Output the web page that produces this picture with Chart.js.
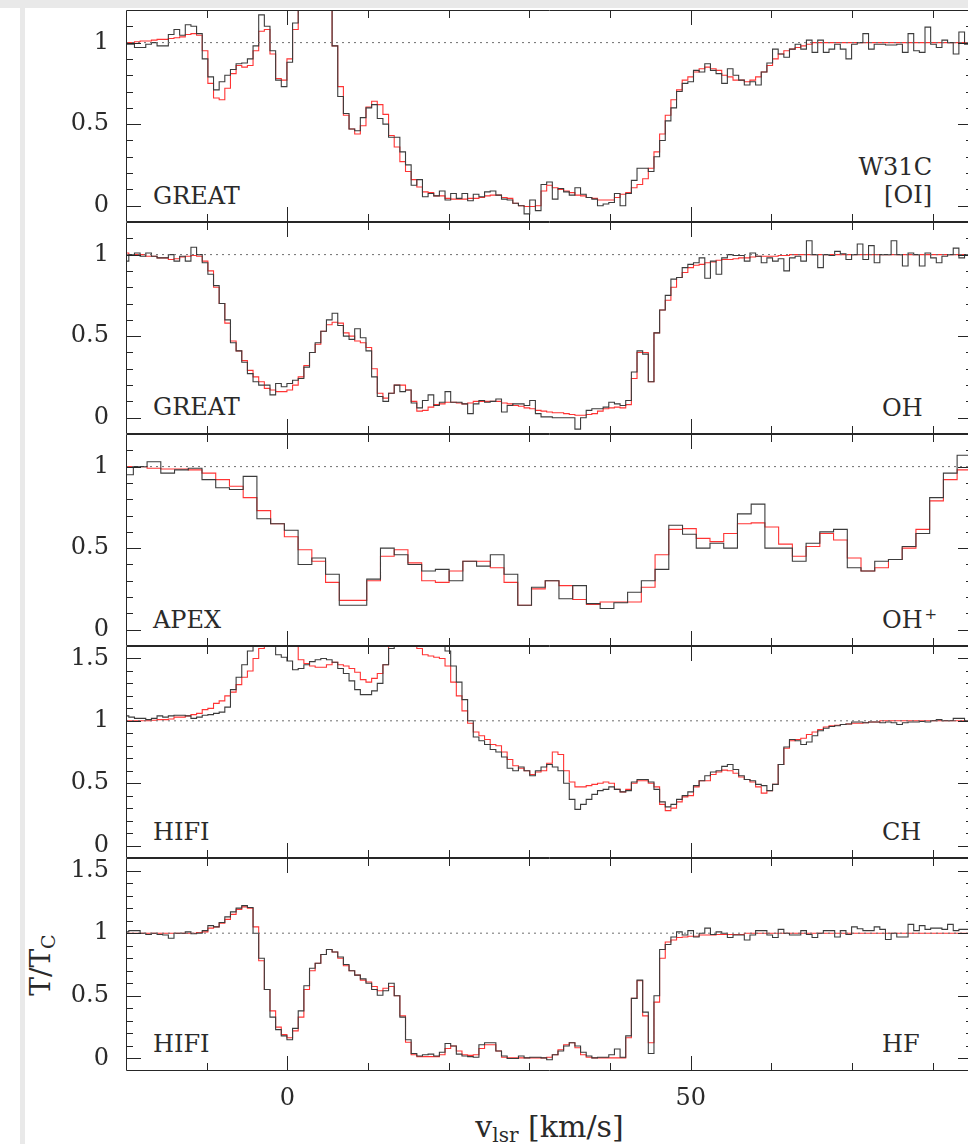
<!DOCTYPE html>
<html>
<head>
<meta charset="utf-8">
<script src="https://cdn.jsdelivr.net/npm/chart.js@4.4.1/dist/chart.umd.min.js"></script>
<style>
  html, body { margin: 0; padding: 0; width: 968px; height: 1144px; overflow: hidden; background: #fff; }
  #fig { position: relative; width: 968px; height: 1144px; overflow: hidden; background: #fff; }
  .edge { position: absolute; background: #e9e9e9; }
  .lbl { position: absolute; font-family: 'DejaVu Serif', serif; font-size: 24px; line-height: 1; color: #2a2a2a; white-space: nowrap; }
  .rt { transform: translateX(-100%); }
  .sup { position: relative; top: -0.55em; font-size: 15px; margin-left: 2px; }
  .sub { position: relative; top: 0.28em; font-size: 19px; }
  canvas { position: absolute; left: 0; }
</style>
</head>
<body>
<div id="fig">
  <div class="edge" style="left:0;top:0;width:968px;height:8px;"></div>
  <div class="edge" style="left:20px;top:0;width:5px;height:1144px;"></div>

  <div class="lbl" style="left:153px;top:183.7px;">GREAT</div>
  <div class="lbl rt" style="left:932px;top:154.7px;">W31C</div>
  <div class="lbl rt" style="left:932px;top:182.7px;">[OI]</div>

  <div class="lbl" style="left:153px;top:394.7px;">GREAT</div>
  <div class="lbl" style="left:882px;top:395.7px;">OH</div>

  <div class="lbl" style="left:153px;top:607.7px;">APEX</div>
  <div class="lbl" style="left:882px;top:607.7px;">OH<span class="sup">+</span></div>

  <div class="lbl" style="left:153px;top:819.7px;">HIFI</div>
  <div class="lbl" style="left:882px;top:819.7px;">CH</div>

  <div class="lbl" style="left:153px;top:1031.7px;">HIFI</div>
  <div class="lbl" style="left:882px;top:1031.7px;">HF</div>

  <div class="lbl" style="left:41px;top:965px;font-size:28px;transform:translate(-50%,-50%) rotate(-90deg);">T/T<span class="sub">C</span></div>
  <div class="lbl" style="left:549.5px;top:1111.6px;font-size:30px;transform:translateX(-50%);">v<span class="sub" style="font-size:20px;top:0.25em;">lsr</span> [km/s]</div>
</div>

<script>
// Line-to-continuum ratios T/Tc towards W31C.
// Black: observed spectra; red: model fits. Values are per spectral channel.

// Velocity grid (km/s): first channel centre and channel width
const oiGrid  = { v0: -20.0,  dv: 0.7 };
const ohGrid  = { v0: -20.0,  dv: 0.7 };
const ohpGrid = { v0: -19.94, dv: 1.702 };
const chGrid  = { v0: -20.0,  dv: 0.7 };
const hfGrid  = { v0: -20.0,  dv: 0.7 };

// [OI] 63 um, GREAT
const oiObs = [
  0.99, 0.99, 0.97, 0.97, 0.99, 1.00, 0.98, 0.98, 1.05, 1.08,
  1.045, 1.11, 1.10, 1.055, 0.90, 0.79, 0.71, 0.76, 0.80, 0.835,
  0.87, 0.875, 0.90, 0.98, 1.17, 1.10, 0.95, 0.77, 0.73, 0.88,
  1.12, 1.60, 1.90, 2.00, 1.90, 1.60, 1.25, 0.98, 0.67, 0.565,
  0.47, 0.46, 0.54, 0.60, 0.62, 0.535, 0.50, 0.42, 0.42, 0.33,
  0.25, 0.125, 0.16, 0.055, 0.075, 0.06, 0.09, 0.035, 0.075, 0.045,
  0.075, 0.03, 0.07, 0.055, 0.085, 0.09, 0.065, 0.04, 0.035, 0.015,
  0.00, -0.05, 0.035, -0.03, 0.13, 0.145, 0.04, 0.105, 0.085, 0.065,
  0.11, 0.07, 0.05, 0.04, 0.00, 0.01, 0.02, 0.075, 0.00, 0.075,
  0.155, 0.23, 0.23, 0.21, 0.30, 0.40, 0.52, 0.60, 0.70, 0.75,
  0.76, 0.83, 0.82, 0.87, 0.83, 0.81, 0.75, 0.84, 0.80, 0.77,
  0.74, 0.76, 0.74, 0.82, 0.875, 0.96, 0.93, 0.91, 0.96, 0.99,
  0.96, 1.015, 0.94, 1.015, 0.94, 0.96, 0.99, 0.96, 0.90, 0.99,
  1.00, 1.055, 0.96, 0.99, 0.99, 0.985, 0.985, 0.99, 0.94, 1.055,
  0.95, 0.94, 1.095, 0.99, 0.97, 1.015, 1.00, 0.93, 1.065, 0.99, 1.00
];
const oiModel = [
  1.00, 1.00, 1.005, 1.01, 1.01, 1.015, 1.02, 1.02, 1.025, 1.03,
  1.035, 1.05, 1.055, 1.045, 0.95, 0.75, 0.66, 0.65, 0.72, 0.81,
  0.86, 0.85, 0.86, 0.95, 1.07, 1.08, 0.93, 0.78, 0.77, 0.90,
  1.08, 1.50, 1.80, 2.00, 1.90, 1.60, 1.25, 0.98, 0.73, 0.555,
  0.47, 0.44, 0.49, 0.605, 0.64, 0.62, 0.56, 0.43, 0.36, 0.27,
  0.21, 0.16, 0.115, 0.085, 0.08, 0.06, 0.06, 0.045, 0.04, 0.04,
  0.04, 0.045, 0.045, 0.05, 0.06, 0.065, 0.065, 0.05, 0.045, 0.015,
  0.00, -0.005, -0.005, 0.00, 0.09, 0.125, 0.11, 0.10, 0.09, 0.08,
  0.065, 0.06, 0.05, 0.045, 0.035, 0.035, 0.035, 0.05, 0.07, 0.08,
  0.11, 0.13, 0.165, 0.23, 0.33, 0.44, 0.555, 0.65, 0.71, 0.77,
  0.79, 0.82, 0.84, 0.85, 0.84, 0.83, 0.80, 0.79, 0.77, 0.77,
  0.76, 0.77, 0.79, 0.82, 0.86, 0.90, 0.93, 0.95, 0.96, 0.97,
  0.98, 0.99, 1.00, 1.00, 1.00, 1.00, 1.00, 1.00, 1.00, 1.00,
  1.00, 1.00, 1.00, 1.00, 1.00, 1.00, 1.00, 1.00, 1.00, 1.00,
  1.00, 1.00, 1.00, 1.00, 1.00, 1.00, 1.00, 1.00, 1.00, 1.00, 1.00
];

// OH, GREAT
const ohObs = [
  0.96, 1.00, 1.01, 0.99, 1.01, 0.99, 0.98, 0.98, 1.00, 0.96,
  0.99, 0.96, 1.045, 1.00, 0.95, 0.88, 0.81, 0.70, 0.60, 0.46,
  0.41, 0.34, 0.27, 0.22, 0.20, 0.20, 0.14, 0.21, 0.19, 0.21,
  0.23, 0.24, 0.31, 0.40, 0.46, 0.53, 0.60, 0.64, 0.565, 0.50,
  0.48, 0.545, 0.49, 0.41, 0.25, 0.13, 0.10, 0.15, 0.20, 0.16,
  0.17, 0.09, 0.06, 0.105, 0.14, 0.075, 0.095, 0.16, 0.095, 0.095,
  0.085, 0.025, 0.085, 0.105, 0.095, 0.10, 0.115, 0.035, 0.075, 0.085,
  0.085, 0.075, 0.105, 0.025, 0.005, 0.005, 0.00, 0.00, 0.00, 0.00,
  -0.07, 0.00, 0.045, 0.055, 0.055, 0.065, 0.095, 0.085, 0.075, 0.105,
  0.28, 0.41, 0.39, 0.22, 0.52, 0.66, 0.75, 0.85, 0.86, 0.92,
  0.94, 0.95, 0.98, 0.855, 0.96, 0.88, 0.98, 1.00, 0.995, 0.995,
  0.96, 1.01, 0.99, 0.95, 0.98, 0.96, 0.975, 0.90, 0.98, 0.99,
  0.96, 1.085, 1.00, 0.92, 1.00, 0.995, 1.02, 1.005, 0.97, 1.00,
  1.065, 0.97, 1.055, 0.95, 1.00, 1.00, 1.085, 1.00, 0.93, 1.01,
  1.00, 0.93, 1.01, 0.98, 0.95, 0.99, 1.00, 1.04, 0.98, 1.00, 1.00
];
const ohModel = [
  1.01, 1.00, 1.00, 1.00, 0.99, 0.99, 0.98, 0.98, 0.97, 0.975,
  0.985, 0.99, 0.995, 0.99, 0.96, 0.90, 0.80, 0.70, 0.58, 0.47,
  0.41, 0.35, 0.29, 0.25, 0.22, 0.18, 0.17, 0.16, 0.16, 0.17,
  0.20, 0.25, 0.32, 0.40, 0.45, 0.53, 0.57, 0.585, 0.58, 0.52,
  0.50, 0.47, 0.46, 0.43, 0.30, 0.15, 0.12, 0.15, 0.20, 0.20,
  0.17, 0.10, 0.04, 0.045, 0.065, 0.08, 0.085, 0.095, 0.095, 0.09,
  0.085, 0.09, 0.10, 0.10, 0.10, 0.10, 0.10, 0.09, 0.085, 0.075,
  0.07, 0.06, 0.055, 0.045, 0.04, 0.035, 0.03, 0.03, 0.025, 0.02,
  0.015, 0.015, 0.02, 0.025, 0.04, 0.055, 0.06, 0.065, 0.06, 0.08,
  0.24, 0.40, 0.40, 0.22, 0.52, 0.66, 0.72, 0.80, 0.86, 0.89,
  0.92, 0.935, 0.94, 0.95, 0.955, 0.965, 0.97, 0.97, 0.975, 0.98,
  0.98, 0.985, 0.99, 0.99, 0.99, 0.99, 0.995, 0.995, 1.00, 1.00,
  1.00, 1.00, 1.00, 1.00, 1.00, 1.00, 1.00, 1.00, 1.00, 1.00,
  1.00, 1.00, 1.00, 1.00, 1.00, 1.00, 1.00, 1.00, 1.00, 1.00,
  1.00, 1.00, 1.00, 1.00, 1.00, 1.00, 1.00, 1.00, 1.00, 1.00, 1.00
];

// OH+, APEX
const ohpObs = [
  0.95, 1.00, 1.03, 0.96, 0.98, 0.99, 0.92, 0.87, 0.86, 0.94,
  0.68, 0.65, 0.61, 0.40, 0.44, 0.34, 0.15, 0.15, 0.31, 0.50,
  0.46, 0.40, 0.36, 0.37, 0.30, 0.42, 0.39, 0.46, 0.34, 0.15,
  0.26, 0.30, 0.19, 0.27, 0.16, 0.13, 0.165, 0.23, 0.30, 0.37,
  0.64, 0.585, 0.50, 0.53, 0.50, 0.71, 0.77, 0.50, 0.50, 0.42,
  0.53, 0.60, 0.615, 0.38, 0.36, 0.42, 0.43, 0.51, 0.59, 0.81,
  0.96, 1.07, 1.07
];
const ohpModel = [
  1.00, 1.00, 0.99, 0.985, 0.985, 0.98, 0.96, 0.92, 0.88, 0.81,
  0.73, 0.65, 0.57, 0.49, 0.42, 0.29, 0.18, 0.18, 0.30, 0.45,
  0.49, 0.41, 0.30, 0.29, 0.36, 0.42, 0.42, 0.38, 0.29, 0.15,
  0.25, 0.30, 0.27, 0.185, 0.155, 0.17, 0.17, 0.17, 0.26, 0.46,
  0.615, 0.62, 0.56, 0.54, 0.59, 0.65, 0.655, 0.63, 0.525, 0.45,
  0.51, 0.59, 0.55, 0.44, 0.36, 0.38, 0.43, 0.50, 0.615, 0.79,
  0.92, 0.98, 0.98
];

// CH, HIFI
const chObs = [
  1.04, 1.03, 1.02, 1.02, 1.01, 1.02, 1.04, 1.03, 1.04, 1.045,
  1.045, 1.04, 1.02, 1.03, 1.045, 1.05, 1.06, 1.07, 1.11, 1.25,
  1.35, 1.45, 1.56, 1.70, 1.75, 1.70, 1.60, 1.53, 1.51, 1.48,
  1.41, 1.42, 1.45, 1.475, 1.49, 1.50, 1.49, 1.47, 1.42, 1.38,
  1.32, 1.25, 1.21, 1.21, 1.24, 1.30, 1.45, 1.58, 1.70, 1.80,
  1.90, 1.90, 1.85, 1.80, 1.75, 1.70, 1.62, 1.56, 1.44, 1.31,
  1.17, 1.00, 0.87, 0.84, 0.81, 0.77, 0.75, 0.71, 0.62, 0.60,
  0.63, 0.60, 0.56, 0.60, 0.63, 0.65, 0.63, 0.60, 0.50, 0.37,
  0.29, 0.33, 0.37, 0.41, 0.44, 0.45, 0.47, 0.45, 0.43, 0.44,
  0.51, 0.53, 0.53, 0.51, 0.45, 0.35, 0.31, 0.33, 0.37, 0.40,
  0.43, 0.48, 0.52, 0.56, 0.59, 0.60, 0.635, 0.65, 0.61, 0.56,
  0.53, 0.52, 0.49, 0.48, 0.44, 0.49, 0.65, 0.79, 0.85, 0.84,
  0.81, 0.83, 0.88, 0.92, 0.94, 0.955, 0.96, 0.97, 0.975, 0.99,
  0.99, 0.985, 0.99, 0.99, 0.985, 0.99, 0.985, 0.97, 0.985, 0.99,
  0.99, 0.995, 0.99, 1.00, 1.01, 1.00, 1.00, 1.02, 1.02, 1.00, 1.00
];
const chModel = [
  1.00, 1.00, 1.00, 1.00, 1.00, 1.005, 1.01, 1.01, 1.015, 1.03,
  1.03, 1.04, 1.05, 1.06, 1.09, 1.10, 1.14, 1.16, 1.20, 1.23,
  1.29, 1.35, 1.40, 1.50, 1.58, 1.65, 1.70, 1.70, 1.65, 1.62,
  1.60, 1.49, 1.46, 1.44, 1.43, 1.43, 1.45, 1.47, 1.45, 1.44,
  1.42, 1.39, 1.33, 1.31, 1.34, 1.38, 1.45, 1.65, 1.80, 1.90,
  1.90, 1.80, 1.58, 1.53, 1.52, 1.51, 1.50, 1.44, 1.31, 1.20,
  1.08, 0.98, 0.91, 0.88, 0.85, 0.81, 0.80, 0.75, 0.69, 0.64,
  0.62, 0.60, 0.57, 0.59, 0.60, 0.66, 0.75, 0.73, 0.60, 0.51,
  0.47, 0.47, 0.48, 0.49, 0.50, 0.51, 0.50, 0.45, 0.43, 0.45,
  0.50, 0.52, 0.52, 0.50, 0.47, 0.33, 0.28, 0.30, 0.35, 0.39,
  0.40, 0.47, 0.52, 0.52, 0.57, 0.59, 0.605, 0.60, 0.58, 0.55,
  0.53, 0.51, 0.47, 0.42, 0.44, 0.49, 0.65, 0.78, 0.84, 0.85,
  0.86, 0.89, 0.91, 0.93, 0.95, 0.96, 0.965, 0.97, 0.975, 0.98,
  0.98, 0.985, 0.99, 0.99, 1.00, 1.00, 1.00, 1.00, 1.00, 1.00,
  1.00, 1.00, 1.00, 1.00, 1.00, 1.00, 1.00, 1.00, 1.00, 1.00, 1.00
];

// HF, HIFI
const hfObs = [
  1.01, 1.02, 1.02, 1.00, 0.99, 1.00, 0.99, 0.985, 0.96, 1.00,
  1.00, 1.01, 0.995, 1.00, 1.02, 1.06, 1.05, 1.085, 1.13, 1.17,
  1.20, 1.22, 1.205, 1.00, 0.80, 0.55, 0.33, 0.23, 0.18, 0.15,
  0.24, 0.38, 0.58, 0.72, 0.76, 0.83, 0.87, 0.85, 0.81, 0.75,
  0.70, 0.665, 0.635, 0.60, 0.55, 0.505, 0.54, 0.60, 0.50, 0.33,
  0.15, 0.04, 0.02, 0.03, 0.035, 0.02, 0.05, 0.12, 0.10, 0.035,
  0.02, 0.015, 0.01, 0.11, 0.125, 0.125, 0.06, 0.02, 0.00, 0.00,
  0.02, 0.005, 0.01, 0.01, 0.005, -0.01, 0.03, 0.06, 0.10, 0.125,
  0.10, 0.05, 0.02, 0.005, 0.01, 0.01, 0.03, 0.075, 0.01, 0.18,
  0.48, 0.625, 0.37, 0.04, 0.50, 0.87, 0.91, 0.97, 1.01, 0.985,
  1.02, 0.97, 1.00, 1.04, 0.99, 1.01, 1.00, 0.965, 0.985, 0.985,
  0.945, 0.985, 1.02, 1.02, 0.985, 0.965, 1.03, 1.00, 0.985, 0.985,
  1.02, 0.99, 0.965, 1.00, 1.02, 1.02, 0.97, 1.02, 0.99, 1.05,
  1.035, 1.02, 1.02, 1.05, 1.03, 0.95, 1.00, 0.97, 0.97, 1.07,
  1.02, 1.06, 1.03, 1.04, 1.04, 1.03, 1.07, 1.02, 1.03, 1.03, 1.00
];
const hfModel = [
  1.00, 1.00, 1.00, 1.00, 1.00, 1.00, 1.00, 1.00, 1.00, 1.00,
  1.00, 1.00, 1.00, 1.005, 1.01, 1.04, 1.05, 1.08, 1.11, 1.15,
  1.19, 1.21, 1.20, 1.05, 0.78, 0.55, 0.38, 0.25, 0.19, 0.165,
  0.22, 0.33, 0.55, 0.70, 0.76, 0.83, 0.87, 0.85, 0.80, 0.74,
  0.70, 0.665, 0.625, 0.61, 0.575, 0.54, 0.56, 0.575, 0.50, 0.34,
  0.13, 0.03, 0.015, 0.015, 0.015, 0.015, 0.03, 0.08, 0.10, 0.06,
  0.03, 0.025, 0.03, 0.08, 0.11, 0.11, 0.06, 0.01, 0.005, 0.005,
  0.005, 0.005, 0.005, 0.005, 0.005, 0.01, 0.03, 0.07, 0.11, 0.125,
  0.085, 0.03, 0.01, 0.005, 0.005, 0.005, 0.005, 0.005, 0.005, 0.165,
  0.48, 0.62, 0.34, 0.125, 0.45, 0.80, 0.93, 0.945, 0.965, 0.97,
  0.975, 0.975, 0.985, 0.985, 0.985, 0.99, 0.99, 0.99, 0.99, 0.99,
  1.00, 1.00, 1.00, 1.00, 1.00, 1.00, 1.00, 1.00, 1.00, 1.00,
  1.00, 1.00, 1.00, 1.00, 1.00, 1.00, 1.00, 1.00, 1.00, 1.00,
  1.00, 1.00, 1.00, 1.00, 1.00, 1.00, 1.00, 1.00, 1.00, 1.00,
  1.00, 1.00, 1.00, 1.00, 1.00, 1.00, 1.00, 1.00, 1.00, 1.00, 1.00
];

// Axis settings
const velocityRange = [-20, 85];
const velocityTickLabels = [0, 50];
const continuumLevel = 1;

const panels = [
  { top: 10,  bottom: 222,  yRange: [-0.1, 1.2], yTickLabels: [0, 0.5, 1],      grid: oiGrid,  obs: oiObs,  model: oiModel },
  { top: 222, bottom: 434,  yRange: [-0.1, 1.2], yTickLabels: [0, 0.5, 1],      grid: ohGrid,  obs: ohObs,  model: ohModel },
  { top: 434, bottom: 646,  yRange: [-0.1, 1.2], yTickLabels: [0, 0.5, 1],      grid: ohpGrid, obs: ohpObs, model: ohpModel },
  { top: 646, bottom: 858,  yRange: [-0.1, 1.6], yTickLabels: [0, 0.5, 1, 1.5], grid: chGrid,  obs: chObs,  model: chModel },
  { top: 858, bottom: 1071, yRange: [-0.1, 1.6], yTickLabels: [0, 0.5, 1, 1.5], grid: hfGrid,  obs: hfObs,  model: hfModel }
];

const toPoints = (grid, values) => values.map((y, i) => ({ x: grid.v0 + i * grid.dv, y }));

// Box frame with inward major/minor tick marks on all four sides
const framePlugin = {
  id: 'frame',
  afterDatasetsDraw(chart) {
    const { ctx, chartArea: a, scales: { x, y } } = chart;
    ctx.save();
    ctx.strokeStyle = '#262626';
    ctx.lineWidth = 1;
    ctx.beginPath();
    ctx.rect(a.left + 0.5, a.top + 0.5, a.right - a.left - 1, a.bottom - a.top - 1);
    const iMin = Math.ceil(y.min * 10 + 1e-6), iMax = Math.floor(y.max * 10 - 1e-6);
    for (let i = iMin; i <= iMax; i++) {
      const py = Math.round(y.getPixelForValue(i / 10)) + 0.5;
      const len = i % 5 === 0 ? 15 : 7;
      ctx.moveTo(a.left, py);  ctx.lineTo(a.left + len, py);
      ctx.moveTo(a.right, py); ctx.lineTo(a.right - len, py);
    }
    for (let v = Math.ceil((x.min + 1e-6) / 10) * 10; v < x.max; v += 10) {
      const px = Math.round(x.getPixelForValue(v)) + 0.5;
      const len = v % 50 === 0 ? 15 : 8;
      ctx.moveTo(px, a.top);    ctx.lineTo(px, a.top + len);
      ctx.moveTo(px, a.bottom); ctx.lineTo(px, a.bottom - len);
    }
    ctx.stroke();
    ctx.restore();
  }
};

const fig = document.getElementById('fig');
const serif = { family: 'DejaVu Serif', size: 24 };
const MARGIN = 20;
const Y_AXIS_W = 126;
const X_AXIS_H = 40;

panels.forEach((p, idx) => {
  const last = idx === panels.length - 1;
  const canvas = document.createElement('canvas');
  const plotH = p.bottom - p.top;
  const canvasTop = p.top - MARGIN;
  const canvasH = last ? 1144 - canvasTop : plotH + 2 * MARGIN;
  canvas.width = 980;
  canvas.height = canvasH;
  canvas.style.top = canvasTop + 'px';
  fig.appendChild(canvas);

  new Chart(canvas, {
    type: 'line',
    data: {
      datasets: [
        {
          data: [{ x: velocityRange[0], y: continuumLevel }, { x: velocityRange[1], y: continuumLevel }],
          borderColor: '#6e6e6e', borderWidth: 1, borderDash: [2, 4], pointRadius: 0, clip: 0
        },
        {
          data: toPoints(p.grid, p.obs), stepped: 'middle',
          borderColor: '#3c3c3c', borderWidth: 1.1, pointRadius: 0, clip: 0
        },
        {
          data: toPoints(p.grid, p.model), stepped: 'middle',
          borderColor: 'rgba(255,35,35,0.92)', borderWidth: 1.1, pointRadius: 0, clip: 0
        }
      ]
    },
    options: {
      responsive: false,
      animation: false,
      events: [],
      layout: {
        padding: {
          left: 0, right: 7, top: MARGIN,
          bottom: last ? canvasH - MARGIN - plotH - X_AXIS_H : MARGIN
        }
      },
      plugins: { legend: { display: false }, tooltip: { enabled: false } },
      scales: {
        x: {
          type: 'linear', min: velocityRange[0], max: velocityRange[1],
          display: last,
          grid: { display: false, drawTicks: false },
          border: { display: false },
          ticks: { font: serif, color: '#2a2a2a', padding: 13, maxRotation: 0, callback: v => String(v) },
          afterBuildTicks: s => { s.ticks = velocityTickLabels.map(v => ({ value: v })); },
          afterFit: s => {
            if (last) s.height = X_AXIS_H;
            s.paddingLeft = 0; s.paddingRight = 0;
          }
        },
        y: {
          type: 'linear', min: p.yRange[0], max: p.yRange[1],
          grid: { display: false, drawTicks: false },
          border: { display: false },
          ticks: { font: serif, color: '#2a2a2a', padding: 17, callback: v => String(v) },
          afterBuildTicks: s => { s.ticks = p.yTickLabels.map(v => ({ value: v })); },
          afterFit: s => {
            s.width = Y_AXIS_W;
            s.paddingTop = 0; s.paddingBottom = 0;
          }
        }
      }
    },
    plugins: [framePlugin]
  });
});
</script>
</body>
</html>
